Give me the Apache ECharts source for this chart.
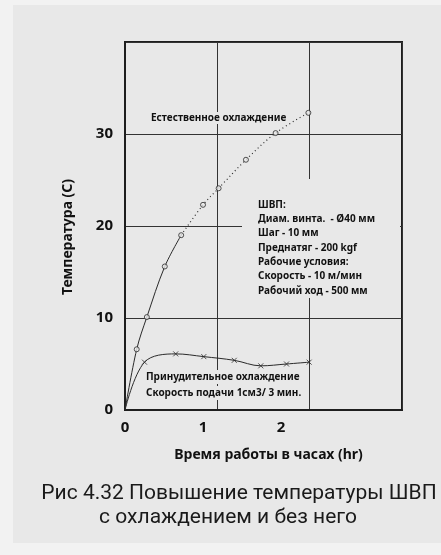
<!DOCTYPE html>
<html><head><meta charset="utf-8">
<script src="https://cdn.jsdelivr.net/npm/echarts@6/dist/echarts.min.js"></script>
<style>html,body{margin:0;padding:0;background:#e8e8e8}#c{width:441px;height:555px}</style>
</head><body><div id="c"></div>
<script>
const naturalX = [0, 0.15, 0.28, 0.51, 0.72, 1.0, 1.2, 1.55, 1.93, 2.35];
const naturalY = [0, 6.6, 10.1, 15.6, 19.0, 22.3, 24.1, 27.2, 30.1, 32.3];
const forcedX = [0, 0.25, 0.65, 1.01, 1.40, 1.74, 2.07, 2.36];
const forcedY = [0, 5.2, 6.1, 5.8, 5.4, 4.8, 5.0, 5.2];
const dottedFrom = 4;
const xTicks = [0, 1, 2];
const yTicks = [0, 10, 20, 30];
const xName = 'Время работы в часах (hr)';
const yName = 'Температура (C)';
const naturalLabel = 'Естественное охлаждение';
const forcedLabel = ['Принудительное охлаждение', 'Скорость подачи 1см3/ 3 мин.'];
const infoLines = ['ШВП:', 'Диам. винта.  - Ø40 мм', 'Шаг - 10 мм', 'Преднатяг - 200 kgf', 'Рабочие условия:', 'Скорость - 10 м/мин', 'Рабочий ход - 500 мм'];
const caption = ['Рис 4.32 Повышение температуры ШВП', 'с охлаждением и без него'];

const BG = '#e8e8e8', INK = '#2a2a2a';
const FONT = '"Noto Sans", sans-serif';
const pairs = (xs, ys) => xs.map((x, i) => [x, ys[i]]);
const nat = pairs(naturalX, naturalY);
const frc = pairs(forcedX, forcedY);

const chart = echarts.init(document.getElementById('c'), null, {renderer: 'canvas'});
const graphics = [
  {type: 'rect', shape: {x: 0, y: 0, width: 13, height: 555}, style: {fill: '#f2f2f2'}, z: -5},
  {type: 'rect', shape: {x: 0, y: 0, width: 441, height: 5}, style: {fill: '#f2f2f2'}, z: -5},
  {type: 'rect', shape: {x: 0, y: 543, width: 441, height: 12}, style: {fill: '#f2f2f2'}, z: -5},
  {type: 'rect', shape: {x: 242, y: 179, width: 158, height: 119}, style: {fill: BG}, z: 5},
  {type: 'text', x: 150, y: 118, z: 6, style: {text: naturalLabel, font: 'bold 10px ' + FONT, fill: '#111', verticalAlign: 'middle', backgroundColor: BG, padding: [1, 1]}},
  {type: 'text', x: 68, y: 237, rotation: Math.PI / 2, z: 6, style: {text: yName, font: 'bold 14px ' + FONT, fill: '#111', align: 'center', verticalAlign: 'middle'}}
];
infoLines.forEach((t, i) => graphics.push({type: 'text', x: 258, y: 205 + i * 14.3, z: 6,
  style: {text: t, font: 'bold 10px ' + FONT, fill: '#111', verticalAlign: 'middle'}}));
forcedLabel.forEach((t, i) => graphics.push({type: 'text', x: 145, y: 377 + i * 16, z: 6,
  style: {text: t, font: 'bold 10px ' + FONT, fill: '#111', verticalAlign: 'middle', backgroundColor: BG, padding: [2, 1]}}));
graphics.push({type: 'text', x: 239, y: 494, z: 6, style: {text: caption[0], font: '21px Roboto', fill: '#1a1a1a', align: 'center', verticalAlign: 'middle'}});
graphics.push({type: 'text', x: 228, y: 518, z: 6, style: {text: caption[1], font: '21px Roboto', fill: '#1a1a1a', align: 'center', verticalAlign: 'middle'}});

chart.setOption({
  backgroundColor: BG,
  animation: false,
  grid: {left: 125, right: 39, top: 42, bottom: 145, show: true, borderColor: '#1e1e1e', borderWidth: 2, backgroundColor: 'transparent'},
  xAxis: [
    {type: 'value', min: 0, max: 3.55, position: 'bottom',
     axisLine: {show: true, lineStyle: {color: '#1e1e1e', width: 2}}, axisTick: {show: false}, splitLine: {show: false},
     axisLabel: {customValues: xTicks, fontSize: 15, fontWeight: 'bold', fontFamily: FONT, color: '#111', margin: 10},
     name: xName, nameLocation: 'middle', nameGap: 38,
     nameTextStyle: {fontSize: 14, fontWeight: 'bold', fontFamily: FONT, color: '#111', padding: [0, 0, 0, 10]}},
    {type: 'value', min: 0, max: 3, interval: 1, position: 'top',
     axisLine: {show: false}, axisTick: {show: false}, axisLabel: {show: false},
     splitLine: {show: true, lineStyle: {color: '#333', width: 1}}}
  ],
  yAxis: {type: 'value', min: 0, max: 40, interval: 10,
    axisLine: {show: true, lineStyle: {color: '#1e1e1e', width: 2}}, axisTick: {show: false},
    splitLine: {show: true, lineStyle: {color: '#333', width: 1}},
    axisLabel: {customValues: yTicks, fontSize: 15, fontWeight: 'bold', fontFamily: FONT, color: '#111', margin: 12}},
  graphic: graphics,
  series: [
    {type: 'line', data: nat.slice(0, dottedFrom + 1), smooth: 0.35, showSymbol: false,
     lineStyle: {color: INK, width: 1}, z: 3},
    {type: 'line', data: nat.slice(dottedFrom), smooth: 0.35, showSymbol: false,
     lineStyle: {color: INK, width: 1.2, type: [1, 3]}, z: 3},
    {type: 'scatter', data: nat.slice(1), symbol: 'circle', symbolSize: 5,
     itemStyle: {color: BG, borderColor: INK, borderWidth: 1}, z: 4},
    {type: 'line', data: frc, smooth: 0.35, showSymbol: false,
     lineStyle: {color: INK, width: 1}, z: 3},
    {type: 'scatter', data: frc.slice(1), symbol: 'path://M0,0L10,10M10,0L0,10', symbolSize: 5,
     itemStyle: {color: 'none', borderColor: INK, borderWidth: 1}, z: 4}
  ]
});
</script></body></html>
